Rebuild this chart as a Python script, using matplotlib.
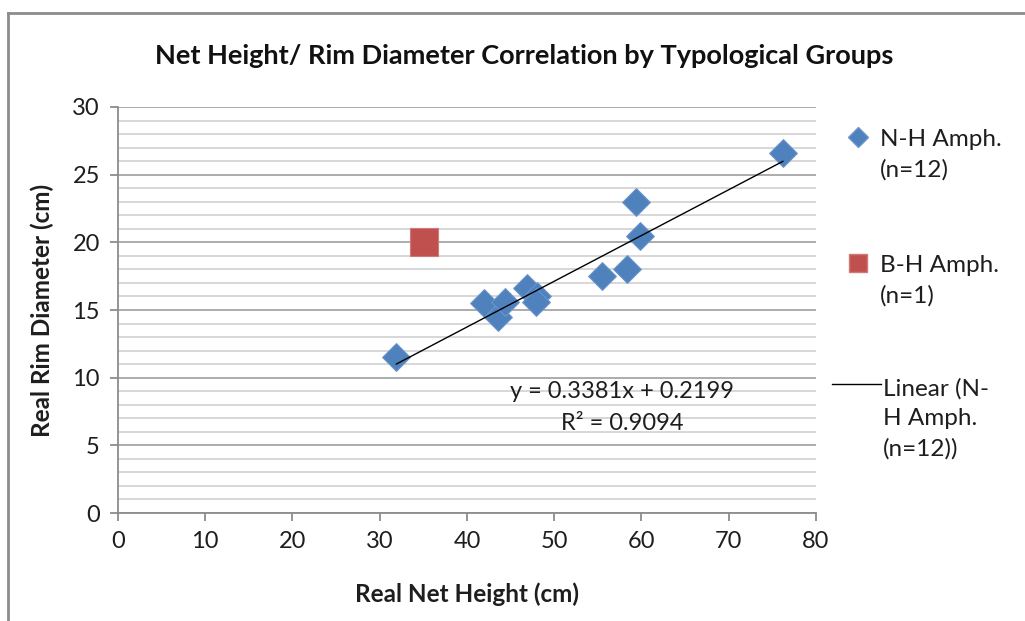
import matplotlib
matplotlib.use("Agg")
import matplotlib.pyplot as plt
from matplotlib.lines import Line2D
from matplotlib.ticker import MultipleLocator

plt.rcParams['font.family'] = ['Lato', 'DejaVu Sans']

# N-H amphorae: net height vs rim diameter (cm)
nh_height = [31.9, 42.0, 43.6, 44.3, 46.9, 48.0, 47.9, 55.5, 58.3, 59.4, 59.8, 76.2]
nh_rim = [11.5, 15.5, 14.5, 15.6, 16.6, 16.0, 15.6, 17.5, 18.0, 23.0, 20.5, 26.6]

# B-H amphora
bh_height = [35.1]
bh_rim = [20.0]

# Linear trend reported for the N-H group
slope = 0.3381
intercept = 0.2199
r_squared = 0.9094

blue = '#4F81BD'
red = '#C0504D'
txt = '#1E1E1E'

fig = plt.figure(figsize=(10.25, 6.21), dpi=100)
ax = fig.add_axes([0.1151, 0.1739, 0.6810, 0.6538])

ax.set_xlim(0, 80)
ax.set_ylim(0, 30)
ax.xaxis.set_major_locator(MultipleLocator(10))
ax.yaxis.set_major_locator(MultipleLocator(5))
ax.yaxis.set_minor_locator(MultipleLocator(1))

ax.grid(axis='y', which='major', color='#A6A6A6', linewidth=1.3)
ax.grid(axis='y', which='minor', color='#D4D4D4', linewidth=1.3)
ax.set_axisbelow(True)

for side in ('top', 'right'):
    ax.spines[side].set_visible(False)
for side in ('left', 'bottom'):
    ax.spines[side].set_color('#8C8C8C')
    ax.spines[side].set_linewidth(1.3)

ax.tick_params(axis='both', which='major', direction='out', length=6,
               width=1.3, color='#8C8C8C', labelsize=17, labelcolor=txt, pad=7)
ax.tick_params(axis='y', which='minor', length=0)

ax.scatter(nh_height, nh_rim, marker='D', s=200, color=blue,
           edgecolors='#6A96CC', linewidths=0.8, zorder=3)
ax.scatter(bh_height, bh_rim, marker='s', s=430, color=red,
           edgecolors='#D07A78', linewidths=0.8, zorder=3)

x0, x1 = min(nh_height), max(nh_height)
ax.plot([x0, x1], [slope * x0 + intercept, slope * x1 + intercept],
        color='black', linewidth=1.0, zorder=4)

ax.text(57.8, 8.95, f'y = {slope}x + {intercept}', ha='center', va='center',
        fontsize=17, color=txt, zorder=5)
ax.text(57.8, 6.6, f'R² = {r_squared}', ha='center', va='center',
        fontsize=17, color=txt, zorder=5)

ax.set_xlabel('Real Net Height (cm)', fontsize=17.5, fontweight='bold',
              labelpad=22, color=txt)
ax.set_ylabel('Real Rim Diameter (cm)', fontsize=17.5, fontweight='bold',
              labelpad=13, color=txt)

fig.text(0.511, 0.91, 'Net Height/ Rim Diameter Correlation by Typological Groups',
         ha='center', va='center', fontsize=19.5, fontweight='bold', color='#111111')

# legend entries placed to the right of the plot area
W, H = 1025, 621
def fx(px):
    return px / W
def fy(py):
    return 1 - py / H

fig.add_artist(Line2D([fx(858)], [fy(137)], marker='D', markersize=10,
                      color=blue, markeredgecolor='#6A96CC', linestyle='none'))
fig.text(fx(880), fy(155), 'N-H Amph.\n(n=12)', ha='left', va='center',
         fontsize=17.5, color=txt, linespacing=1.5)

fig.add_artist(Line2D([fx(858)], [fy(263)], marker='s', markersize=13,
                      color=red, markeredgecolor='#D07A78', linestyle='none'))
fig.text(fx(880), fy(281), 'B-H Amph.\n(n=1)', ha='left', va='center',
         fontsize=17.5, color=txt, linespacing=1.5)

fig.add_artist(Line2D([fx(832), fx(881)], [fy(384), fy(384)], color='black', linewidth=1.0))
fig.text(fx(883), fy(419), 'Linear (N-\nH Amph.\n(n=12))', ha='left', va='center',
         fontsize=17.5, color=txt, linespacing=1.5)

# outer chart frame (top and left edges)
fig.add_artist(Line2D([fx(8), fx(1025)], [fy(13), fy(13)], color='#8C8C8C', linewidth=2))
fig.add_artist(Line2D([fx(8), fx(8)], [fy(13), fy(621)], color='#8C8C8C', linewidth=2))

fig.savefig('out.png', dpi=100)
